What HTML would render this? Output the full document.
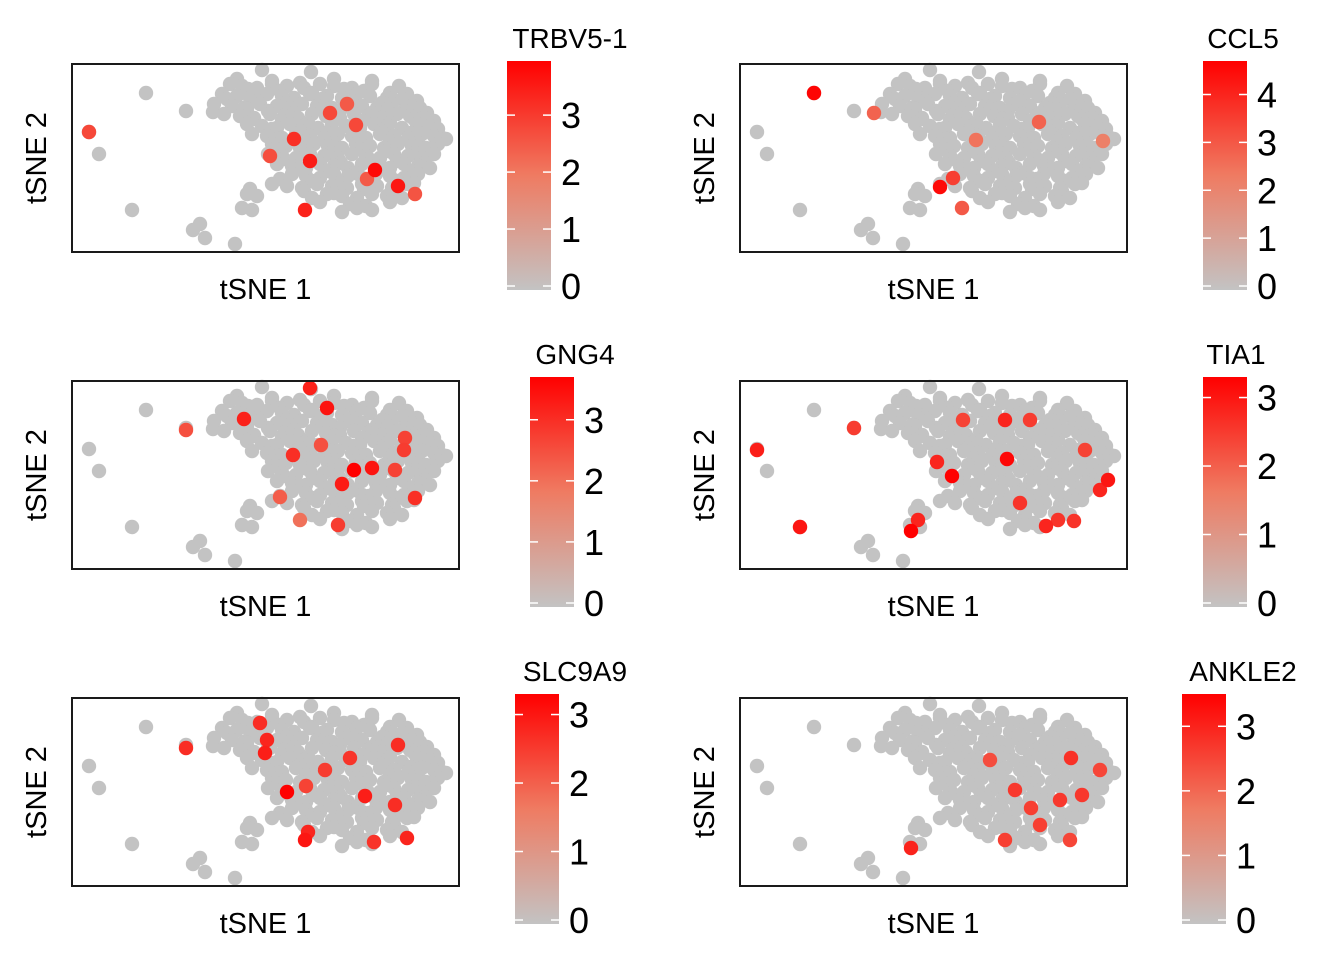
<!DOCTYPE html>
<html><head><meta charset="utf-8"><style>
html,body{margin:0;padding:0;background:#fff}
svg{display:block;font-family:"Liberation Sans",Arial,sans-serif}
</style></head><body>
<svg id="chart" width="1344" height="960" viewBox="0 0 1344 960" xmlns="http://www.w3.org/2000/svg">
<defs>
<linearGradient id="cg" x1="0" y1="1" x2="0" y2="0">
<stop offset="0" stop-color="#c3c3c3"/><stop offset="0.5" stop-color="#ef7b62"/><stop offset="1" stop-color="#ff0000"/>
</linearGradient>
</defs>
</svg>
<script>
// shared cell embedding (panel-relative tSNE coords, domain x 0-387, y 0-188)
const outlierCells = [[17,68],[27,90],[74,29],[60,146],[121,166],[133,174],[128,160],[163,180],[114,47],[141,48]];
const clusterRowY = [8,17,22,27,32,37,42,47,52,57,62,67,72,77,82,87,92,97,102,107,112,117,122,127,132,140,146];
const clusterRowX = [
 [190,239],
 [165,200,228,262,300],
 [158,170,185,200,215,232,248,262,280,300,327],
 [176,208,240,272,292,318],
 [150,165,178,195,210,222,238,255,270,285,298,315,335],
 [155,185,214,250,280,310,330,345],
 [142,160,172,188,205,218,230,245,260,275,290,305,320,340,348],
 [175,196,222,250,268,300,316,332,355],
 [152,168,182,198,212,226,240,254,268,282,296,310,325,338,352],
 [182,210,236,262,290,318,342,362],
 [175,190,205,218,232,246,260,274,288,302,316,330,345,358],
 [200,228,255,281,309,338,366],
 [180,195,210,224,238,252,266,280,294,308,322,336,350,362,370],
 [206,234,262,290,318,346,374],
 [200,214,228,242,256,270,284,298,312,326,340,354,366],
 [203,231,259,287,315,343,360],
 [196,210,224,238,252,266,280,294,308,322,336,350,362],
 [212,241,269,297,325,353],
 [205,220,234,248,262,276,290,304,318,332,346,358],
 [227,255,283,311,339],
 [220,234,248,262,276,290,304,318,332,346],
 [208,240,268,297,326,342],
 [200,215,230,245,260,275,290,305,320,335],
 [178,232,262,292,322],
 [175,185,240,255,270,285,300,315,330],
 [248,278,294,318],
 [170,180,270,285,300]
];
// gene names, colorbar maxima
const genes = ["TRBV5-1","CCL5","GNG4","TIA1","SLC9A9","ANKLE2"];
const geneMax = [3.95,4.7,3.7,3.3,3.3,3.5];
const geneTicks = [[0,1,2,3],[0,1,2,3,4],[0,1,2,3],[0,1,2,3],[0,1,2,3],[0,1,2,3]];
// expressing cells per gene: [x, y, expression]
const exprTRBV51 = [[17,68,2.8],[198,92,2.7],[258,49,2.8],[284,61,2.8],[233,146,3.4],[303,106,3.8],[238,97,3.5],[326,122,3.6],[343,130,2.6],[222,75,3.2],[295,115,2.5],[275,40,2.5]];
const exprCCL5 = [[74,29,4.6],[134,49,2.8],[299,58,2.8],[200,123,4.5],[213,114,3.5],[222,144,3.0],[236,76,2.5],[363,77,2.2]];
const exprGNG4 = [[238,7,3.2],[114,49,2.5],[172,38,3.2],[255,27,3.4],[282,89,3.7],[300,87,3.4],[333,57,2.7],[343,117,3.0],[266,144,2.8],[221,74,3.0],[270,103,3.3],[228,139,2.0],[332,69,2.8],[208,116,2.3],[249,64,2.5],[323,89,2.7]];
const exprTIA1 = [[17,69,2.9],[60,146,3.0],[171,150,3.3],[178,139,2.8],[114,47,2.5],[197,81,2.8],[212,95,3.3],[267,78,3.2],[265,39,2.8],[368,99,3.0],[360,109,2.8],[334,140,2.6],[306,145,2.8],[280,122,2.6],[345,69,2.4],[223,39,2.4],[290,39,2.5],[318,139,2.6]];
const exprSLC9A9 = [[114,50,2.7],[215,94,3.3],[193,55,2.9],[195,42,2.8],[188,25,2.7],[233,142,3.0],[236,134,2.8],[335,140,2.8],[323,107,2.7],[293,98,2.9],[278,60,2.6],[326,47,2.7],[302,144,2.6],[253,72,2.5],[234,88,2.4]];
const exprANKLE2 = [[171,150,3.0],[331,60,2.8],[342,97,2.7],[300,127,2.6],[275,92,2.7],[265,142,2.6],[320,102,2.7],[360,72,2.5],[291,110,2.6],[250,62,2.4],[330,142,2.5]];
const exprAll = [exprTRBV51,exprCCL5,exprGNG4,exprTIA1,exprSLC9A9,exprANKLE2];

const svg = document.getElementById('chart');
const NS = 'http://www.w3.org/2000/svg';
function mk(tag, attrs, parent){const e=document.createElementNS(NS,tag);for(const k in attrs)e.setAttribute(k,attrs[k]);(parent||svg).appendChild(e);return e;}
function lerp(a,b,t){return Math.round(a+(b-a)*t);}
function colorFor(v,max){
  let t=Math.max(0,Math.min(1,v/max));
  let c0,c1,u;
  if(t<0.5){c0=[195,195,195];c1=[239,123,98];u=t/0.5;}else{c0=[239,123,98];c1=[255,0,0];u=(t-0.5)/0.5;}
  return 'rgb('+lerp(c0[0],c1[0],u)+','+lerp(c0[1],c1[1],u)+','+lerp(c0[2],c1[2],u)+')';
}
const panels = [
 {px:72,py:64,cbx:507,cby:61,cbh:229,titleX:570},
 {px:740,py:64,cbx:1203,cby:61,cbh:229,titleX:1243},
 {px:72,py:381,cbx:530,cby:377,cbh:230,titleX:575},
 {px:740,py:381,cbx:1203,cby:377,cbh:230,titleX:1236},
 {px:72,py:698,cbx:515,cby:694,cbh:230,titleX:575},
 {px:740,py:698,cbx:1182,cby:694,cbh:230,titleX:1243}
];
const W=387,H=188,R=7.2;
panels.forEach((p,i)=>{
  const g=mk('g',{});
  
  
  const sx=v=>p.px+v/387*W, sy=v=>p.py+v/188*H;
  const grays=mk('g',{},g);
  
  
  const pts=outlierCells.slice();
  clusterRowY.forEach((y,r)=>clusterRowX[r].forEach((x,j)=>pts.push([x,y+((j%3)-1)*2])));
  pts.forEach(c=>{const e=mk('circle',{cx:sx(c[0]),cy:sy(c[1]),r:R,fill:'#c3c3c3'},grays);
    
    });
  const reds=mk('g',{},g);
  
  
  exprAll[i].slice().sort((a,b)=>a[2]-b[2]).forEach(c=>{const e=mk('circle',{cx:sx(c[0]),cy:sy(c[1]),r:R,fill:colorFor(c[2],geneMax[i])},reds);
    
    });
  const box=mk('rect',{x:p.px,y:p.py,width:W,height:H,fill:'none',stroke:'#1a1a1a','stroke-width':2},g);
  
  
  const xl=mk('text',{x:p.px+W/2,y:p.py+H+47,'text-anchor':'middle','font-size':29,fill:'#000'},g);
  xl.textContent='tSNE 1';
  
  
  const yx=p.px-26, yy=p.py+H/2;
  const yl=mk('text',{x:yx,y:yy,'text-anchor':'middle','font-size':29,fill:'#000',transform:'rotate(-90 '+yx+' '+yy+')'},g);
  yl.textContent='tSNE 2';
  
  
  const cb=mk('rect',{x:p.cbx,y:p.cby,width:44,height:p.cbh,fill:'url(#cg)'},g);
  
  
  const bottom=p.cby+p.cbh-4, top=p.cby;
  const vy=v=>bottom-(bottom-top)*v/geneMax[i];
  geneTicks[i].forEach(t=>{
    const y=vy(t);
    mk('line',{x1:p.cbx,x2:p.cbx+8,y1:y,y2:y,stroke:'#fff','stroke-width':1.5},g);
    mk('line',{x1:p.cbx+36,x2:p.cbx+44,y1:y,y2:y,stroke:'#fff','stroke-width':1.5},g);
    const tl=mk('text',{x:p.cbx+54,y:y+13,'font-size':36,fill:'#000'},g);
    tl.textContent=String(t);
    
    
  });
  const tt=mk('text',{x:p.titleX,y:p.cby-13,'text-anchor':'middle','font-size':28,fill:'#000'},g);
  tt.textContent=genes[i];
  
  
});
</script>
</body></html>
